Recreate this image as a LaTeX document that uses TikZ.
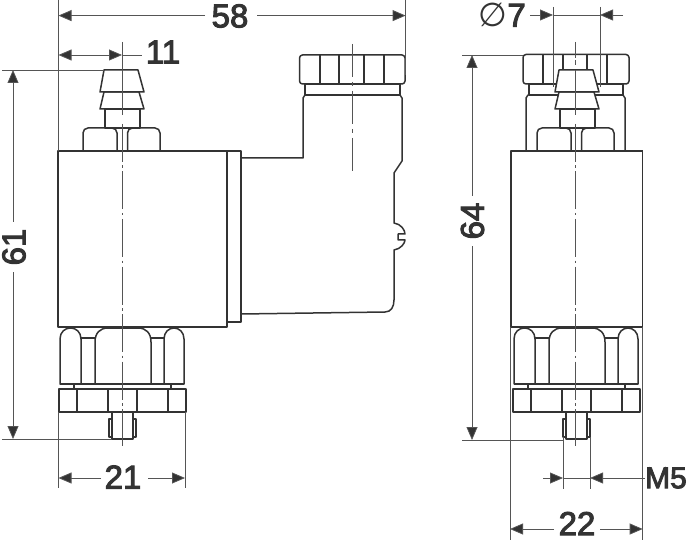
\documentclass[tikz,border=0pt]{standalone}
\usepackage{fontspec}
\newfontfamily\dimfont[FakeBold=3]{Liberation Sans}
\newfontfamily\symfont{DejaVu Sans}
\usetikzlibrary{arrows.meta}
\definecolor{ink}{HTML}{333333}
\definecolor{thin}{HTML}{555555}
\tikzset{
  part/.style={draw=ink,line width=1.5pt,fill=white,line join=round},
  edge/.style={draw=ink,line width=1.5pt,line join=round},
  extline/.style={draw=thin,line width=0.8pt},
  dimline/.style={draw=thin,line width=0.8pt},
  axisline/.style={draw=thin,line width=0.8pt,dash pattern=on 38pt off 3.5pt on 2.5pt off 3.5pt},
  axissolid/.style={draw=thin,line width=0.8pt},
  tipend/.style={-{Triangle[length=13pt,width=11pt,fill=ink]}},
  tipboth/.style={{Triangle[length=13pt,width=11pt,fill=ink]}-{Triangle[length=13pt,width=11pt,fill=ink]}},
  dimtext/.style={font=\dimfont\fontsize{33}{33}\selectfont,text=ink,inner sep=0pt},
}
% parts common to both views, drawn around the left view's coordinates
\newcommand{\bottomparts}{%
  \path[part] (60,384) -- (60,339) .. controls (60,332) and (65,328) .. (70.5,328)
     .. controls (76,328) and (81,332) .. (81,339) -- (81,384) -- cycle;
  \path[part] (164,384) -- (164,339) .. controls (164,332) and (169,328) .. (174,328)
     .. controls (179,328) and (184,332) .. (184,339) -- (184,384) -- cycle;
  \path[part] (95,384) -- (95,342) .. controls (95,333) and (100,328) .. (108,328) -- (138,328)
     .. controls (146,328) and (151,333) .. (151,342) -- (151,384) -- cycle;
  \path[edge] (81,338) -- (95,338);
  \path[edge] (151,338) -- (164,338);
  \path[edge] (60,384) -- (184,384);
  \path[part] (74,384) rectangle (171,390);
  \path[part] (59,389) rectangle (186,412);
  \path[edge] (77,389) -- (77,412) (108,389) -- (108,412) (137,389) -- (137,412) (168,389) -- (168,412);
  \path[part] (112,412) rectangle (133,439);
  \path[part,line width=1.1pt] (109,419) rectangle (112,437);
  \path[part,line width=1.1pt] (133,419) rectangle (136,437);
}
\newcommand{\nipple}{%
  \path[part] (105,109) rectangle (140,128);
  \path[part] (104,92) -- (139,92) -- (144,109) -- (100,109) -- cycle;
  \path[part] (104,70) -- (138,70) -- (144,92) -- (100,92) -- cycle;
}
\newcommand{\hexnut}{%
  \path[part,rounded corners=5pt] (83,151) -- (83,128) -- (117,128) -- (117,151);
  \path[part,rounded corners=5pt] (127.5,151) -- (127.5,128) -- (160,128) -- (160,151);
  \path[edge] (117,128) -- (127.5,128);
}
\begin{document}
\begin{tikzpicture}[x=1pt,y=-1pt]
\useasboundingbox (0,0) rectangle (688,540);
\fill[white] (0,0) rectangle (688,540);

% ---------- left view ----------
\path[part] (241,314) -- (241,158) -- (303,158) -- (303,98) -- (305,95) -- (400,95) -- (402,98)
  -- (402,161) -- (394,173) -- (394,223)
  .. controls (401,224) and (405,230) .. (405,234) -- (398,234) -- (398,240) -- (405,240)
  .. controls (405,243) and (401,249) .. (394,250)
  -- (394,300) .. controls (394,307) and (391,312) .. (385,312) -- cycle;
\path[part] (305,84) rectangle (400,95);
\path[part,rounded corners=3pt] (299.5,55) rectangle (405,84);
\path[edge] (320,55) -- (320,84) (339,55) -- (339,84) (364,55) -- (364,84) (384,55) -- (384,84);
\path[part] (227,151) rectangle (241,322);
\path[part] (58,151) rectangle (227,327);
\hexnut
\path[edge] (58,151) -- (227,151);
\nipple
\bottomparts
\path[axissolid] (122,42) -- (122,115);
\path[axisline] (122,124) -- (122,446);
\path[axisline,dash pattern=on 33pt off 5pt on 4pt off 5pt] (352.5,44) -- (352.5,172);

% ---------- right view ----------
\path[part] (526,151) -- (526,98) -- (528,95) -- (623,95) -- (625,98) -- (625,151);
\path[part] (529,84) rectangle (623,95);
\path[part,rounded corners=3pt] (523,54.5) rectangle (629,84);
\path[edge] (543,55) -- (543,84) (563,55) -- (563,84) (587,55) -- (587,84) (607,55) -- (607,84);
\path[extline] (553,7) -- (553,87);
\path[extline] (600,7) -- (600,87);
\path[part] (511,151) rectangle (642.5,327);
\begin{scope}[xshift=454pt]
\hexnut
\end{scope}
\begin{scope}[xshift=455pt]
\nipple
\end{scope}
\path[edge] (511,151) -- (642.5,151);
\begin{scope}[xshift=454pt]
\bottomparts
\end{scope}
\path[axissolid] (575.7,42) -- (575.7,58) (575.7,60) -- (575.7,65) (575.7,70) -- (575.7,115);
\path[axisline] (575.7,124) -- (575.7,446);

% ---------- dimension 58 ----------
\coordinate (e58a) at (58.5,0);
\coordinate (e58b) at (58.5,151);
\coordinate (e58c) at (405.6,0);
\coordinate (e58d) at (405.6,75);
\path[extline] (e58a) -- (e58b);
\path[extline] (e58c) -- (e58d);
\node[dimtext] (t58) at (230,16) {58};
\coordinate (a58l) at (58.5,15.6);
\coordinate (a58r) at (405.6,15.6);
\path[dimline,tipend] (205,15.6) -- (a58l);
\path[dimline,tipend] (257,15.6) -- (a58r);

% ---------- dimension 11 ----------
\node[dimtext] (t11) at (163,52) {11};
\coordinate (a11l) at (58.5,55);
\coordinate (a11r) at (122,55);
\coordinate (a11e) at (142,55);
\path[dimline,tipboth] (a11l) -- (a11r);
\path[dimline] (a11r) -- (a11e);

% ---------- dimension 61 ----------
\coordinate (e61a) at (2,70);
\coordinate (e61b) at (104,70);
\coordinate (e61c) at (2,439);
\coordinate (e61d) at (112,439);
\path[extline] (e61a) -- (e61b);
\path[extline] (e61c) -- (e61d);
\node[dimtext,rotate=90] (t61) at (14,247) {61};
\coordinate (a61t) at (13,70);
\coordinate (a61b) at (13,439);
\path[dimline,tipend] (13,222) -- (a61t);
\path[dimline,tipend] (13,272) -- (a61b);

% ---------- dimension 21 ----------
\path[extline] (58.5,412) -- (58.5,488);
\path[extline] (185,412) -- (185,488);
\node[dimtext] (t21) at (123,477) {21};
\coordinate (a21l) at (58.5,478);
\coordinate (a21r) at (185,478);
\path[dimline,tipend] (101,478) -- (a21l);
\path[dimline,tipend] (148,478) -- (a21r);

% ---------- dimension dia 7 ----------
\node[dimtext,anchor=east] (t7) at (526,15) {{\symfont ∅}7};
\coordinate (a7l) at (553,15);
\coordinate (a7r) at (600,15);
\path[dimline,tipend] (530,15) -- (a7l);
\path[dimline,tipend] (623,15) -- (a7r);
\path[dimline] (a7l) -- (a7r);

% ---------- dimension 64 ----------
\coordinate (e64a) at (462,55);
\coordinate (e64b) at (523,55);
\coordinate (e64c) at (462,440);
\coordinate (e64d) at (564,440);
\path[extline] (e64a) -- (e64b);
\path[extline] (e64c) -- (e64d);
\node[dimtext,rotate=90] (t64) at (472.5,221) {64};
\coordinate (a64t) at (472,55);
\coordinate (a64b) at (472,440);
\path[dimline,tipend] (472,196) -- (a64t);
\path[dimline,tipend] (472,246) -- (a64b);

% ---------- dimension M5 ----------
\path[extline] (563,437) -- (563,489);
\path[extline] (590,437) -- (590,489);
\node[dimtext,anchor=east,font=\dimfont\fontsize{30}{30}\selectfont] (tM) at (687,478) {M5};
\coordinate (aMl) at (563,478);
\coordinate (aMr) at (590,478);
\path[dimline,tipend] (543,478) -- (aMl);
\path[dimline,tipend] (tM.west) -- (aMr);
\path[dimline] (aMl) -- (aMr);

% ---------- dimension 22 ----------
\path[extline] (510,327) -- (510,540);
\path[extline] (642.7,327) -- (642.7,540);
\node[dimtext] (t22) at (577,523.5) {22};
\coordinate (a22l) at (510,529);
\coordinate (a22r) at (642.7,529);
\path[dimline,tipend] (554,529) -- (a22l);
\path[dimline,tipend] (600,529) -- (a22r);
\end{tikzpicture}
\end{document}
